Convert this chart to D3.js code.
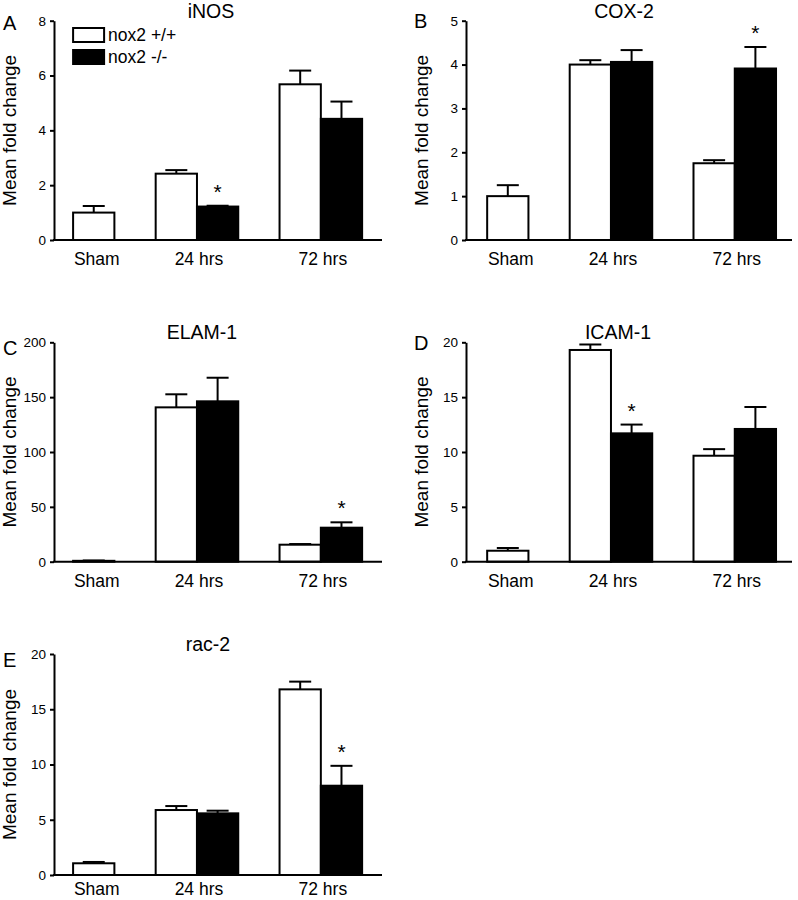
<!DOCTYPE html>
<html><head><meta charset="utf-8">
<script src="https://cdn.jsdelivr.net/npm/d3@7"></script>
<style>
body{margin:0;background:#fff}
svg{display:block}
text{font-family:"Liberation Sans",Arial,Helvetica,sans-serif;fill:#000}
</style>
</head><body>
<svg id="chart" width="798" height="900"></svg>
<script>
// ---------------- data ----------------
const categories = ["Sham", "24 hrs", "72 hrs"];
const seriesNames = ["nox2 +/+", "nox2 -/-"];
const panelTitles = ["iNOS", "COX-2", "ELAM-1", "ICAM-1", "rac-2"];
const panelLetters = ["A", "B", "C", "D", "E"];
const yMax = [8, 5, 200, 20, 20];
const yTicks = [
  [0, 2, 4, 6, 8],
  [0, 1, 2, 3, 4, 5],
  [0, 50, 100, 150, 200],
  [0, 5, 10, 15, 20],
  [0, 5, 10, 15, 20]
];
const wtMean = [
  [1.0, 2.42, 5.68],
  [1.0, 4.0, 1.75],
  [0.8, 140.7, 15.5],
  [1.0, 19.3, 9.66],
  [1.06, 5.88, 16.8]
];
const wtErr = [
  [0.24, 0.13, 0.5],
  [0.25, 0.1, 0.07],
  [0.3, 11.9, 0.6],
  [0.25, 0.5, 0.6],
  [0.12, 0.36, 0.7]
];
const koMean = [
  [null, 1.22, 4.42],
  [null, 4.06, 3.91],
  [null, 146.2, 31],
  [null, 11.7, 12.1],
  [null, 5.58, 8.08]
];
const koErr = [
  [null, 0.03, 0.63],
  [null, 0.27, 0.49],
  [null, 21.5, 4.9],
  [null, 0.8, 2.0],
  [null, 0.24, 1.8]
];
const koStar = [
  [false, true, false],
  [false, false, true],
  [false, false, true],
  [false, true, false],
  [false, false, true]
];
// slot index where each category's group starts (7 equal slots per panel)
const groupSlot = [0, 2, 5];

// ---------------- layout ----------------
const cols = [
  {axis: 54, right: 382, padOuter: 0.472, align: 0.49},
  {axis: 466, right: 792, padOuter: 0.45, align: 0.57}
];
const rows = [
  {top: 20.7, zero: 240},
  {top: 342.3, zero: 561.7},
  {top: 654, zero: 875}
];
const panelPos = [[0, 0], [1, 0], [0, 1], [1, 1], [0, 2]];
const titleDx = [-7, -5, -16, -11, -10];
const letterPos = [[3, 30], [414, 28], [3, 355], [414, 350], [3, 667]];

const svg = d3.select("#chart");
const FONT = '"Liberation Sans",Arial,Helvetica,sans-serif';

panelTitles.forEach((title, p) => {
  const col = cols[panelPos[p][0]];
  const row = rows[panelPos[p][1]];
  const g = svg.append("g");

  const x = d3.scaleBand()
    .domain(d3.range(7))
    .range([col.axis, col.right])
    .paddingInner(0)
    .paddingOuter(col.padOuter)
    .align(col.align);
  const bw = x.bandwidth();

  const y = d3.scaleLinear().domain([0, yMax[p]]).range([row.zero, row.top]);

  // bars
  const bars = [];
  categories.forEach((c, i) => {
    bars.push({slot: groupSlot[i], v: wtMean[p][i], e: wtErr[p][i], fill: "#fff", star: false});
    if (koMean[p][i] != null)
      bars.push({slot: groupSlot[i] + 1, v: koMean[p][i], e: koErr[p][i], fill: "#000", star: koStar[p][i]});
  });

  g.selectAll("rect.bar").data(bars).join("rect")
    .attr("class", "bar")
    .attr("x", d => x(d.slot))
    .attr("width", bw)
    .attr("y", d => y(d.v))
    .attr("height", d => y(0) - y(d.v))
    .attr("fill", d => d.fill)
    .attr("stroke", "#000")
    .attr("stroke-width", 2);

  // error bars
  const capW = 22;
  const eb = g.selectAll("g.err").data(bars).join("g").attr("class", "err");
  eb.append("line")
    .attr("x1", d => x(d.slot) + bw / 2).attr("x2", d => x(d.slot) + bw / 2)
    .attr("y1", d => y(d.v)).attr("y2", d => y(d.v + d.e))
    .attr("stroke", "#000").attr("stroke-width", 2);
  eb.append("line")
    .attr("x1", d => x(d.slot) + bw / 2 - capW / 2).attr("x2", d => x(d.slot) + bw / 2 + capW / 2)
    .attr("y1", d => y(d.v + d.e)).attr("y2", d => y(d.v + d.e))
    .attr("stroke", "#000").attr("stroke-width", 2);

  // significance stars
  g.selectAll("text.star").data(bars.filter(d => d.star)).join("text")
    .attr("class", "star")
    .attr("x", d => x(d.slot) + bw / 2)
    .attr("y", d => y(d.v + d.e) - 7)
    .attr("text-anchor", "middle")
    .attr("font-size", 21)
    .text("*");

  // y axis
  const ya = g.append("g")
    .attr("transform", `translate(${col.axis},0)`)
    .call(d3.axisLeft(y).tickValues(yTicks[p]).tickFormat(d3.format("d"))
      .tickSize(4).tickSizeOuter(0).tickPadding(4));
  ya.attr("font-family", FONT).attr("font-size", 13.5);
  ya.select(".domain").attr("stroke-width", 2);
  ya.selectAll(".tick line").attr("stroke-width", 2);
  ya.selectAll(".tick text").attr("fill", "#000");

  // x axis line
  g.append("line")
    .attr("x1", col.axis - 1).attr("x2", col.right)
    .attr("y1", y(0)).attr("y2", y(0))
    .attr("stroke", "#000").attr("stroke-width", 2);

  // category labels
  const labelX = i => (i === 0 ? x(groupSlot[i]) + bw / 2 + 3 : x(groupSlot[i] + 1) + 2);
  g.selectAll("text.cat").data(categories).join("text")
    .attr("class", "cat")
    .attr("x", (d, i) => labelX(i))
    .attr("y", Math.min(y(0) + 25, 895))
    .attr("text-anchor", "middle")
    .attr("font-size", 17.5)
    .text(d => d);

  // y axis title
  g.append("text")
    .attr("transform", `translate(${col.axis - 38},${(row.top + row.zero) / 2}) rotate(-90)`)
    .attr("text-anchor", "middle")
    .attr("font-size", 19)
    .text("Mean fold change");

  // panel title
  g.append("text")
    .attr("x", (col.axis + col.right) / 2 + titleDx[p])
    .attr("y", row.top - 3)
    .attr("text-anchor", "middle")
    .attr("font-size", 19.5)
    .text(title);

  // panel letter
  g.append("text")
    .attr("x", letterPos[p][0])
    .attr("y", letterPos[p][1])
    .attr("font-size", 20)
    .text(panelLetters[p]);

  // legend (panel A only)
  if (p === 0) {
    const lg = g.append("g");
    seriesNames.forEach((s, k) => {
      lg.append("rect")
        .attr("x", x(0)).attr("y", 28 + k * 22)
        .attr("width", 31).attr("height", 14)
        .attr("fill", k === 0 ? "#fff" : "#000")
        .attr("stroke", "#000").attr("stroke-width", 2);
      lg.append("text")
        .attr("x", x(0) + 35).attr("y", 41 + k * 22)
        .attr("font-size", 17.5)
        .text(s);
    });
  }
});
</script>
</body></html>
